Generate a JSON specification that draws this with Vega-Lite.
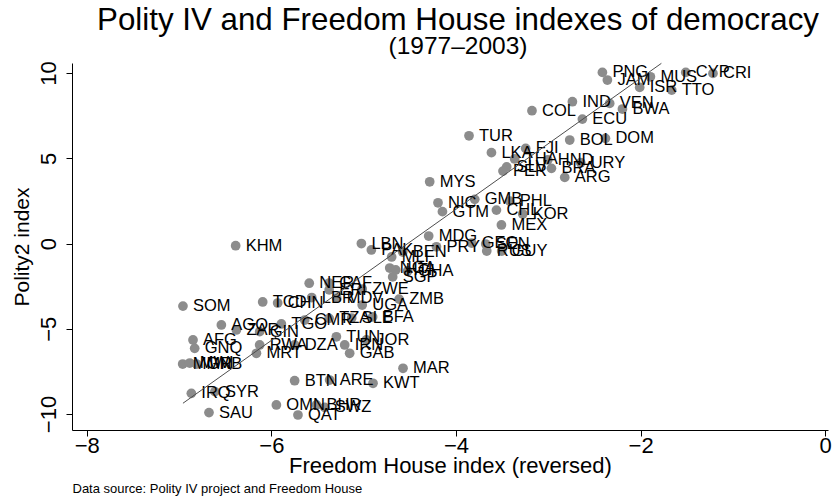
{
  "$schema": "https://vega.github.io/schema/vega-lite/v6.json",
  "width": 756,
  "height": 367,
  "autosize": {"type": "none"},
  "padding": {"left": 72, "top": 63, "right": 5, "bottom": 70},
  "background": "white",
  "config": {"font": "Liberation Sans", "view": {"stroke": null}},
  "title": {
    "text": "Polity IV and Freedom House indexes of democracy",
    "subtitle": "(1977–2003)",
    "fontSize": 31.3,
    "fontWeight": "normal",
    "subtitleFontSize": 24.5,
    "color": "black",
    "subtitleColor": "black",
    "anchor": "middle",
    "frame": "group",
    "offset": 2,
    "subtitlePadding": -1,
    "dx": 8
  },
  "datasets": {
    "countries": [
      {"code": "PNG", "fh": -2.414, "polity": 10.04},
      {"code": "JAM", "fh": -2.36, "polity": 9.59},
      {"code": "MUS", "fh": -1.894, "polity": 9.78},
      {"code": "ISR", "fh": -2.01, "polity": 9.16},
      {"code": "CYP", "fh": -1.511, "polity": 10.04},
      {"code": "CRI", "fh": -1.216, "polity": 9.98},
      {"code": "TTO", "fh": -1.663, "polity": 9.0},
      {"code": "IND", "fh": -2.739, "polity": 8.32},
      {"code": "VEN", "fh": -2.335, "polity": 8.22},
      {"code": "BWA", "fh": -2.197, "polity": 7.89},
      {"code": "COL", "fh": -3.177, "polity": 7.79},
      {"code": "ECU", "fh": -2.631, "polity": 7.3},
      {"code": "TUR", "fh": -3.859, "polity": 6.32},
      {"code": "BOL", "fh": -2.768, "polity": 6.07},
      {"code": "DOM", "fh": -2.381, "polity": 6.17},
      {"code": "LKA", "fh": -3.616, "polity": 5.33},
      {"code": "FJI", "fh": -3.245, "polity": 5.58},
      {"code": "THA", "fh": -3.364, "polity": 4.96},
      {"code": "HND", "fh": -3.006, "polity": 4.9},
      {"code": "URY", "fh": -2.649, "polity": 4.74},
      {"code": "SLV", "fh": -3.451, "polity": 4.49},
      {"code": "BRA", "fh": -2.966, "polity": 4.41},
      {"code": "PER", "fh": -3.491, "polity": 4.25},
      {"code": "ARG", "fh": -2.822, "polity": 3.88},
      {"code": "MYS", "fh": -4.285, "polity": 3.62},
      {"code": "NIC", "fh": -4.195, "polity": 2.39},
      {"code": "GMB", "fh": -3.797, "polity": 2.59},
      {"code": "PHL", "fh": -3.418, "polity": 2.49},
      {"code": "GTM", "fh": -4.147, "polity": 1.87},
      {"code": "CHL", "fh": -3.562, "polity": 1.96},
      {"code": "KOR", "fh": -3.277, "polity": 1.73},
      {"code": "MEX", "fh": -3.508, "polity": 1.09},
      {"code": "MDG", "fh": -4.296, "polity": 0.44},
      {"code": "LBN", "fh": -5.025, "polity": 0.0},
      {"code": "PAK", "fh": -4.917, "polity": -0.38},
      {"code": "BEN", "fh": -4.577, "polity": -0.5},
      {"code": "PRY", "fh": -4.212, "polity": -0.19},
      {"code": "GEO", "fh": -3.83, "polity": 0.03},
      {"code": "SEN", "fh": -3.678, "polity": -0.03},
      {"code": "RUS", "fh": -3.667, "polity": -0.44},
      {"code": "GUY", "fh": -3.505, "polity": -0.44},
      {"code": "MLI", "fh": -4.697, "polity": -0.79},
      {"code": "NGA", "fh": -4.718, "polity": -1.44},
      {"code": "HTI", "fh": -4.653, "polity": -1.55},
      {"code": "GHA", "fh": -4.523, "polity": -1.61},
      {"code": "SGP", "fh": -4.686, "polity": -1.96},
      {"code": "KHM", "fh": -6.387, "polity": -0.13},
      {"code": "NER", "fh": -5.59, "polity": -2.33},
      {"code": "CAF", "fh": -5.374, "polity": -2.32},
      {"code": "ERI", "fh": -5.374, "polity": -2.72},
      {"code": "ZWE", "fh": -5.016, "polity": -2.67},
      {"code": "LBR", "fh": -5.563, "polity": -3.17},
      {"code": "MDV", "fh": -5.293, "polity": -3.2},
      {"code": "ZMB", "fh": -4.616, "polity": -3.26},
      {"code": "UGA", "fh": -5.016, "polity": -3.61},
      {"code": "SOM", "fh": -6.958, "polity": -3.67},
      {"code": "TCD", "fh": -6.094, "polity": -3.43},
      {"code": "CHN", "fh": -5.932, "polity": -3.49},
      {"code": "AGO", "fh": -6.542, "polity": -4.78},
      {"code": "ZAR", "fh": -6.379, "polity": -5.07},
      {"code": "GIN", "fh": -6.127, "polity": -5.17},
      {"code": "TGO", "fh": -5.892, "polity": -4.72},
      {"code": "CMR", "fh": -5.639, "polity": -4.49},
      {"code": "TZA", "fh": -5.374, "polity": -4.39},
      {"code": "SLE", "fh": -5.13, "polity": -4.37},
      {"code": "BFA", "fh": -4.903, "polity": -4.31},
      {"code": "AFG", "fh": -6.849, "polity": -5.66},
      {"code": "GNQ", "fh": -6.831, "polity": -6.15},
      {"code": "MMR", "fh": -6.961, "polity": -7.07},
      {"code": "MWI", "fh": -6.885, "polity": -7.01},
      {"code": "GNB", "fh": -6.81, "polity": -7.07},
      {"code": "IRQ", "fh": -6.867, "polity": -8.79},
      {"code": "SYR", "fh": -6.612, "polity": -8.69},
      {"code": "SAU", "fh": -6.676, "polity": -9.92},
      {"code": "OMN", "fh": -5.946, "polity": -9.47},
      {"code": "BHR", "fh": -5.512, "polity": -9.47},
      {"code": "QAT", "fh": -5.712, "polity": -10.06},
      {"code": "SWZ", "fh": -5.423, "polity": -9.61},
      {"code": "BTN", "fh": -5.748, "polity": -8.05},
      {"code": "ARE", "fh": -5.369, "polity": -8.01},
      {"code": "KWT", "fh": -4.899, "polity": -8.2},
      {"code": "MAR", "fh": -4.574, "polity": -7.32},
      {"code": "DZA", "fh": -5.748, "polity": -5.95},
      {"code": "RWA", "fh": -6.127, "polity": -5.95},
      {"code": "MRT", "fh": -6.162, "polity": -6.44},
      {"code": "TUN", "fh": -5.296, "polity": -5.47},
      {"code": "JOR", "fh": -4.971, "polity": -5.66},
      {"code": "IRN", "fh": -5.206, "polity": -5.95},
      {"code": "GAB", "fh": -5.152, "polity": -6.44}
    ],
    "fit": [
      {"fh": -6.958, "polity": -9.37},
      {"fh": -1.775, "polity": 10.57}
    ]
  },
  "layer": [
    {
      "data": {"name": "countries"},
      "mark": {"type": "point", "filled": true, "shape": "circle", "size": 95, "color": "#8c8c8c", "opacity": 1},
      "encoding": {
        "x": {
          "field": "fh", "type": "quantitative",
          "scale": {"domain": [-8.16, 0.03], "nice": false, "zero": false},
          "axis": {
            "orient": "bottom",
            "values": [-8, -6, -4, -2, 0],
            "title": "Freedom House index (reversed)",
            "titleFontSize": 22, "titleFontWeight": "normal", "titleColor": "black",
            "labelFontSize": 22, "labelColor": "black",
            "domainColor": "black", "tickColor": "black", "tickSize": 6,
            "grid": false, "labelPadding": -1, "titlePadding": -1
          }
        },
        "y": {
          "field": "polity", "type": "quantitative",
          "scale": {"domain": [-10.94, 10.59], "nice": false, "zero": false},
          "axis": {
            "values": [-10, -5, 0, 5, 10],
            "title": "Polity2 index",
            "titleFontSize": 21, "titleFontWeight": "normal", "titleColor": "black",
            "labelFontSize": 22, "labelColor": "black", "labelAngle": 270,
            "labelAlign": "center", "labelBaseline": "bottom",
            "domainColor": "black", "tickColor": "black", "tickSize": 6,
            "grid": false, "labelPadding": 6, "titlePadding": 5
          }
        }
      }
    },
    {
      "data": {"name": "countries"},
      "mark": {"type": "text", "align": "left", "baseline": "middle", "dx": 10, "fontSize": 16.5, "color": "black"},
      "encoding": {
        "x": {"field": "fh", "type": "quantitative", "axis": null},
        "y": {"field": "polity", "type": "quantitative"},
        "text": {"field": "code"}
      }
    },
    {
      "data": {"name": "fit"},
      "mark": {"type": "line", "color": "#4d4d4d", "strokeWidth": 1},
      "encoding": {
        "x": {
          "field": "fh", "type": "quantitative",
          "axis": {
            "orient": "bottom",
            "offset": 48,
            "title": "Data source: Polity IV project and Freedom House",
            "titleFontSize": 13, "titleFontWeight": "normal", "titleColor": "black",
            "titleAnchor": "start", "titleAlign": "left",
            "domain": false, "ticks": false, "labels": false, "grid": false,
            "titlePadding": 4
          }
        },
        "y": {"field": "polity", "type": "quantitative"}
      }
    }
  ],
  "resolve": {"axis": {"x": "independent"}}
}
